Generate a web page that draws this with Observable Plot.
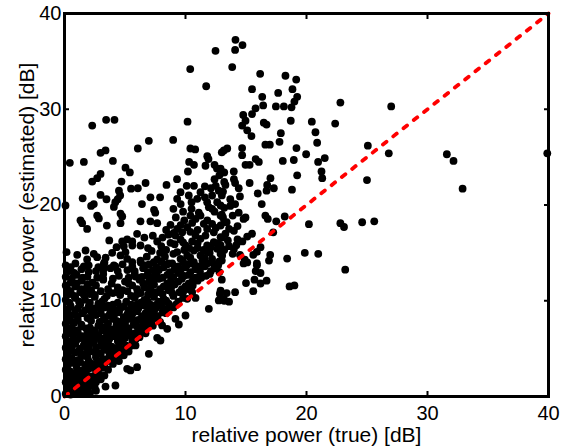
<!DOCTYPE html>
<html><head><meta charset="utf-8">
<script src="https://cdn.jsdelivr.net/npm/d3@7"></script>
<script src="https://cdn.jsdelivr.net/npm/@observablehq/plot@0.6"></script>
<style>body{margin:0;background:#fff} svg{display:block}</style>
</head><body><div id="chart"></div>
<script>
const xTicks = [0, 10, 20, 30, 40];
const yTicks = [0, 10, 20, 30, 40];
const innerTicks = [10, 20, 30];
const refLine = [0, 40];
const xLabel = "relative power (true) [dB]";
const yLabel = "relative power (estimated) [dB]";

// upper scattered points [true, estimated]
const sparseTop = [[12.48,36.1],[10.39,34.2],[11.71,32.4],[2.29,28.3],[3.44,28.9],[4.13,28.9],[10.17,28.7],[8.98,26.8],[6.97,26.7],
[14.13,37.25],[14.71,36.7],[14.1,36.2],[13.86,34.4],[16.17,33.7],[18.26,33.5],[19.15,33.1],[15.5,32.1],[17.66,31.7],[18.84,32.1],[19.23,31.3],[16.34,31.3],[19.0,30.8],[22.8,30.7],[15.79,30.1],[16.42,30.4],[17.47,30.3],[18.13,30.3],[18.76,30.2],[14.77,29.4],[15.5,29.5],[14.96,28.8],[14.68,28.3],[15.1,27.8],[16.47,28.6],[16.7,28.4],[18.7,28.8],[20.44,28.7],[20.74,27.6],[22.37,28.5],[17.88,27.5],[15.45,27.2],[27.0,30.3]];

const outliers = [[26.8,25.4],[31.6,25.3],[32.15,24.6],[32.9,21.7],[39.9,25.4]];

const midRight = [[13.17,25.7],[13.45,25.9],[14.68,25.95],[16.6,26.3],[16.97,26.3],[19.17,25.95],[19.97,25.3],[18.04,24.6],[18.95,24.7],[20.96,24.5],[21.51,24.9],[25.07,26.2],[20.88,26.5],[17.77,26.6],[14.68,25.2],[14.96,24.2],[15.3,24.2],[15.8,24.8],[16.06,24.5],[12.9,23.8],[13.06,23.4],[13.99,23.5],[19.23,23.1],[21.24,23.5],[21.3,22.8],[25.0,22.6],[17.02,22.8],[16.75,22.1],[17.3,21.75],[16.7,21.5],[15.3,22.3],[14.0,22.7],[14.1,22.3],[13.3,22.1],[14.4,21.75],[14.5,20.9],[13.1,21.4],[13.0,21.0],[18.8,21.6],[15.97,21.2],[16.3,20.1],[13.2,19.7],[13.7,19.9],[14.1,20.1],[13.1,18.7],[13.9,18.9],[14.96,18.7],[14.8,18.55],[16.6,18.9],[16.8,18.55],[18.2,18.8],[17.5,18.3],[20.2,18.0],[22.8,18.1],[23.1,17.7],[24.6,18.2],[25.6,18.3],[13.6,17.5],[14.0,17.3],[13.3,17.0],[13.0,16.6],[15.5,17.0],[15.1,16.7],[14.7,16.2],[14.3,16.4],[17.25,17.15],[16.2,15.6],[15.9,15.1],[15.6,14.8],[14.0,15.4],[13.9,14.9],[14.5,14.8],[14.9,14.3],[15.1,14.0],[17.0,14.8],[16.9,14.2],[18.4,14.4],[19.86,15.0],[20.97,14.9],[15.9,13.9],[12.9,14.9],[12.9,15.8],
[13.6,15.7],[14.2,15.8],[13.5,16.3],[14.3,17.8],[13.4,18.2],[14.4,19.2],[13.7,20.6]];

const midLeft = [[6.06,25.9],[3.39,25.7],[2.98,25.45],[10.4,25.9],[10.8,25.8],[11.8,25.1],[11.9,24.8],[13.0,25.5],[0.44,24.4],[1.6,24.5],[4.0,24.6],[10.3,24.5],[10.7,24.2],[11.65,24.1],[12.4,24.2],[5.04,23.9],[5.4,23.4],[10.2,23.5],[12.6,23.8],[12.8,23.1],[12.4,22.7],[13.2,23.4],[2.98,23.25],[2.7,22.8],[2.29,22.45],[4.71,22.45],[6.7,22.3],[8.43,22.1],[9.3,22.7],[10.1,22.0],[10.7,22.0],[11.6,21.95],[12.1,21.75],[12.5,22.0],[12.75,21.5],[13.2,22.4],[4.5,21.5],[4.6,21.0],[5.5,21.7],[6.06,21.75],[2.98,21.05],[3.47,20.6],[1.5,20.7],[0.08,19.95],[2.42,20.1],[2.2,19.9],[4.2,20.3],[4.08,19.8],[4.4,20.6],[6.4,20.1],[7.1,20.8],[7.9,20.8],[7.4,19.5],[7.5,19.2],[9.0,19.6],
[9.31,20.65],[9.59,21.34],[10.27,20.99],[10.97,20.65],[11.24,21.34],[11.79,20.29],[11.93,19.77],[12.2,20.99],[12.62,20.29],[12.9,19.95],
[2.7,18.9],[2.84,18.6],[1.32,18.4],[1.46,18.1],[4.63,19.1],[4.77,18.8],[6.28,18.3],[4.63,18.1],[7.1,18.3],[7.66,18.1],[3.5,17.85],[1.87,17.5],
[8.76,17.92],[9.31,17.5],[9.03,17.09],[9.73,17.15],[10.14,17.68],[10.55,18.13],[10.41,18.9],[10.83,18.55],[11.24,18.9],[11.51,18.03],[11.79,17.5],[12.2,18.03],[12.34,17.15],[12.9,17.86],[12.9,18.9],
[4.77,16.19],[5.18,16.4],[5.6,16.19],[6.0,16.99],[6.28,15.77],[5.6,15.77],[7.66,16.19],[8.76,16.05],
[9.17,16.81],[9.59,16.4],[10.0,15.77],[10.55,16.19],[10.83,16.81],[11.24,16.47],[11.65,16.81],[11.79,15.77],[12.34,16.12],[12.9,16.64],
[0.17,15.07],[1.05,14.8],[1.74,15.25],[2.42,14.9],[2.7,14.55],[1.87,14.31],
[3.94,15.0],[4.63,14.73],[5.04,15.07],[5.18,14.38],[5.6,14.03],[6.28,14.2],[3.25,13.86],[4.08,13.68],
[9.31,15.07],[9.59,14.38],[10.14,14.73],[10.69,15.25],[11.24,14.73],[11.79,15.07],[12.2,14.38],[12.62,15.42],[13.03,14.73],[10.69,14.03],[11.51,13.86],[12.34,13.86],
[7.38,14.03],[7.66,14.31],[8.6,13.9]];

const bandFill = [[8.3,14.6],[9.0,14.9],[9.9,15.3],[10.4,14.5],[11.0,15.5],[11.6,14.4],[12.0,15.0],[12.8,14.1],[13.2,15.3],
[8.4,15.3],[9.1,15.9],[9.8,16.1],[10.3,15.5],[11.0,16.0],[11.5,15.3],[12.1,15.6],[12.7,16.0],[8.1,16.6],[8.6,16.9],
[9.6,17.9],[10.4,17.2],[11.0,17.4],[11.8,18.4],[12.5,17.6],[13.2,18.2],[8.4,17.4],[9.9,18.4],
[9.2,18.7],[9.8,19.3],[10.5,19.6],[11.1,19.2],[12.4,19.3],[13.0,19.0],[9.6,20.1],[10.5,20.3],[11.6,20.8],[12.2,19.6],
[6.8,14.6],[7.2,15.2],[7.9,15.0],[6.6,16.6],[7.3,16.8],[8.0,15.7],[6.9,15.5],
[3.4,14.5],[4.3,15.6],[4.9,15.7],[3.7,16.3]];

const lowRight = [[14.8,13.9],[15.9,13.7],[15.8,13.1],[16.2,12.9],[15.7,12.2],[16.2,11.8],[16.7,12.1],[15.0,11.85],[15.6,11.0],[18.6,11.5],[19.0,11.6],[23.2,13.25],[13.0,12.2],[12.9,11.05],[13.4,10.8],[14.1,10.9],[13.2,10.0],[13.6,9.9]];

const nearDiag = [[3.25,13.58],[5.87,12.53],[3.2,12.29],[4.35,10.9],[10.27,11.77],[10.55,10.9],[10.14,10.2],[10.83,10.3],[11.93,9.16],[12.75,10.03],[12.84,10.73],[13.17,10.2],[10.0,8.46],[9.17,8.11],[9.45,7.52],[7.66,6.13],[7.93,5.85],[6.97,4.46],[6.0,3.06],[5.18,2.89],[5.45,2.72],[4.21,1.15],[3.39,1.04],[5.87,5.33],[8.07,7.42],[8.49,7.07]];

const core = [
[0.1,0.3],[0.5,0.2],[0.9,0.4],[1.3,0.3],[1.7,0.5],[2.1,0.3],[2.6,0.6],
[0.3,0.9],[0.7,1.0],[1.1,0.8],[1.6,1.0],[2.0,1.1],[2.5,0.9],
[0.1,1.5],[0.5,1.6],[1.0,1.4],[1.5,1.6],[2.0,1.7],[2.6,1.5],[3.0,1.8],
[0.2,2.1],[0.6,2.2],[1.2,2.0],[1.8,2.3],[2.3,2.1],[2.8,2.4],[3.3,2.2],
[0.1,2.8],[0.5,2.6],[1.4,2.7],[2.0,2.9],[2.6,2.7],[3.1,3.0],[3.6,2.8],
[0.3,3.3],[0.8,3.5],[1.7,3.3],[2.3,3.4],[2.9,3.2],[3.4,3.6],[4.0,3.4],[4.5,3.7],
[0.1,3.9],[0.6,4.0],[1.1,3.8],[2.6,4.1],[3.2,3.9],[3.7,4.2],[4.3,4.0],[4.9,4.3],
[0.3,4.5],[0.9,4.6],[1.6,4.4],[2.1,4.7],[3.0,4.5],[3.6,4.8],[4.1,4.6],[4.7,4.9],[5.3,4.7],
[0.1,5.1],[0.6,5.2],[1.3,5.0],[2.0,5.3],[2.6,5.1],[3.3,5.4],[3.9,5.2],[4.5,5.5],[5.1,5.3],[5.7,5.6],
[0.4,5.7],[1.0,5.9],[1.7,5.7],[2.3,6.0],[3.0,5.8],[3.7,6.0],[4.4,5.8],[5.0,6.1],[5.6,5.9],[6.2,6.2],
[0.1,6.3],[0.7,6.5],[1.5,6.3],[2.2,6.6],[2.8,6.4],[3.5,6.6],[4.2,6.4],[4.8,6.7],[5.5,6.5],[6.1,6.8],[6.7,6.6],
[0.3,7.0],[1.0,6.9],[1.8,7.1],[2.5,6.9],[3.2,7.2],[4.0,7.0],[4.6,7.3],[5.3,7.1],[6.0,7.3],[6.7,7.1],[7.3,7.4],
[0.1,7.6],[0.8,7.7],[1.4,7.5],[2.9,7.8],[3.6,7.6],[4.3,7.9],[5.0,7.7],[5.8,7.9],[6.5,7.7],[7.2,8.0],[7.9,7.8],
[0.4,8.2],[1.1,8.4],[1.9,8.2],[2.6,8.5],[3.4,8.3],[4.1,8.5],[4.9,8.3],[5.6,8.6],[6.4,8.4],[7.0,8.6],[7.7,8.4],[8.4,8.7],
[0.2,8.8],[0.9,9.0],[2.2,8.9],[3.0,9.1],[3.8,8.9],[4.6,9.2],[5.3,9.0],[6.1,9.2],[6.9,9.0],[7.6,9.3],[8.3,9.1],[9.0,9.3],
[0.5,9.5],[1.3,9.6],[2.0,9.4],[2.8,9.7],[3.6,9.5],[4.4,9.8],[5.5,9.6],[6.3,9.8],[7.1,9.6],[7.8,9.9],[8.6,9.7],[9.4,9.9],
[0.1,10.1],[0.9,10.3],[1.7,10.1],[2.5,10.4],[3.3,10.2],[5.8,10.3],[6.6,10.1],[7.4,10.4],[8.2,10.2],[9.0,10.5],[9.8,10.3],
[0.4,10.7],[1.3,10.9],[2.1,10.7],[3.0,11.0],[4.0,10.8],[5.2,11.0],[6.3,10.8],[7.0,11.1],[7.7,10.9],[8.6,11.1],[9.5,10.9],[10.3,11.2],
[0.2,11.3],[0.9,11.5],[1.8,11.3],[2.6,11.6],[4.4,11.4],[5.6,11.6],[6.6,11.4],[7.4,11.7],[8.2,11.5],[9.1,11.7],[10.0,11.5],
[0.5,11.9],[1.4,12.1],[2.3,11.9],[3.2,12.2],[5.0,12.0],[6.2,12.2],[7.0,12.0],[7.8,12.3],[8.8,12.1],[9.7,12.3],[10.6,12.1],[11.3,12.4],
[0.1,12.5],[1.0,12.7],[1.9,12.5],[3.2,12.8],[4.5,12.6],[5.8,12.8],[6.8,12.6],[7.6,12.9],[8.5,12.7],[9.4,12.9],[10.3,12.7],[11.2,13.0],[12.0,12.8],
[0.4,13.1],[1.4,13.3],[2.6,13.1],[3.8,13.4],[5.2,13.2],[6.5,13.4],[7.3,13.2],[8.2,13.5],[9.1,13.3],[10.0,13.5],[10.8,13.3],[11.6,13.6],[12.4,13.4],
[0.1,13.7],[0.9,13.9],[2.0,13.7],[3.3,14.0],[4.8,13.8],[6.3,14.0],[7.0,13.8],[8.0,14.1],[8.9,13.9],[9.8,14.1],[10.6,13.9],[11.4,14.2],[12.2,14.0],[13.0,14.2]];

const coreFill = [
[0.3,0.6],[1.1,0.6],[1.9,0.7],
[0.3,1.2],[1.3,1.2],[2.3,1.3],
[0.3,1.8],[0.8,1.9],[1.7,1.8],[2.4,1.9],
[0.4,2.4],[1.0,2.5],[1.5,2.4],[2.6,2.2],
[0.2,3.0],[1.0,3.1],[1.9,3.0],[2.5,3.0],[3.3,3.1],
[0.4,3.6],[1.3,3.6],[2.0,3.7],[2.8,3.7],[3.9,3.8],
[0.2,4.2],[1.4,4.2],[1.9,4.1],[2.6,4.4],[4.5,4.2],
[0.5,4.8],[1.2,4.8],[1.9,5.0],[2.6,4.7],[3.3,4.9],[4.3,5.0],[5.0,5.0],
[0.2,5.4],[0.9,5.5],[1.6,5.4],[2.4,5.6],[3.0,5.3],[3.6,5.6],[4.8,5.7],[5.5,5.3],
[0.7,6.0],[1.3,6.1],[2.0,6.0],[2.6,6.2],[3.3,6.1],[4.0,6.3],[4.7,6.2],[5.3,6.4],[5.9,6.0],
[0.4,6.6],[1.1,6.7],[1.9,6.6],[2.5,6.7],[3.1,6.9],[3.8,6.7],[4.5,6.9],[5.2,6.8],[5.8,6.6],[6.4,6.9],
[0.6,7.2],[1.4,7.3],[2.1,7.2],[2.8,7.4],[3.5,7.3],[4.3,7.5],[5.0,7.4],[5.7,7.5],[6.4,7.3],[7.0,7.6],
[0.4,7.9],[1.1,8.0],[2.2,7.9],[3.2,8.0],[4.0,8.1],[4.6,7.8],[5.4,8.1],[6.1,8.0],[6.8,8.2],[7.5,8.2],
[0.7,8.5],[1.5,8.7],[2.3,8.5],[3.0,8.7],[3.7,8.5],[4.5,8.8],[5.2,8.6],[6.0,8.9],[6.7,8.7],[7.4,8.9],[8.1,8.8],
[0.3,9.1],[1.1,9.2],[1.7,9.0],[2.5,9.2],[3.3,9.3],[4.1,9.1],[4.9,9.4],[5.8,9.3],[6.6,9.5],[7.3,9.2],[8.0,9.5],[8.7,9.3],
[0.4,9.8],[1.2,9.9],[2.1,9.8],[3.1,9.9],[4.0,9.6],[5.1,9.9],[6.0,9.6],[6.9,9.9],[7.6,9.6],[8.4,10.0],[9.2,9.6],
[0.8,10.5],[1.6,10.6],[2.5,10.6],[3.5,10.5],[4.6,10.6],[5.5,10.5],[6.0,10.7],[6.9,10.6],[7.4,10.9],[8.1,10.7],[8.9,10.8],[9.8,10.9],
[0.5,11.0],[1.4,11.2],[2.2,11.1],[3.6,11.2],[4.8,11.1],[6.0,11.2],[7.1,11.4],[7.9,11.2],[8.8,11.3],[9.7,11.2],[10.6,11.6],
[0.1,11.6],[1.0,11.8],[1.9,11.7],[3.9,11.8],[5.3,11.8],[6.5,11.8],[7.3,12.0],[8.5,11.8],[9.4,12.0],[10.3,11.8],[11.0,12.1],
[0.6,12.3],[1.5,12.4],[2.7,12.4],[4.0,12.3],[5.3,12.4],[6.4,12.5],[7.3,12.5],[8.1,12.4],[9.0,12.5],[9.9,12.6],[10.8,12.4],[11.7,12.6],
[0.8,12.9],[2.0,13.0],[3.2,13.2],[4.4,13.1],[5.8,13.1],[6.9,13.0],[7.8,13.2],[8.7,13.0],[9.6,13.2],[10.4,13.0],[11.2,13.4],[12.1,13.1],[12.8,13.0],
[0.5,13.5],[1.6,13.6],[2.8,13.5],[4.2,13.6],[5.6,13.6],[6.7,13.7],[7.6,13.5],[8.5,13.8],[9.4,13.6],[10.2,13.8],[11.0,13.6],[11.8,13.9],[12.7,13.7]];

const points = [...core, ...coreFill, ...nearDiag, ...lowRight, ...midLeft, ...bandFill, ...midRight, ...sparseTop, ...outliers];

const font = "'Liberation Sans', Arial, Helvetica, sans-serif";
const chart = Plot.plot({
  width: 563, height: 448,
  marginLeft: 64, marginRight: 15, marginTop: 13, marginBottom: 52,
  style: {fontFamily: font, color: "black", background: "white", overflow: "visible"},
  x: {domain: [0, 40]},
  y: {domain: [0, 40]},
  marks: [
    Plot.dot(points, {x: d => d[0], y: d => d[1], r: 3.9, fill: "black"}),
    Plot.line(refLine, {x: d => d, y: d => d, stroke: "red", strokeWidth: 3.8, strokeDasharray: "4.5,8.6"}),
    Plot.frame({strokeWidth: 3}),
    Plot.axisX(xTicks, {anchor: "bottom", tickSize: -5, tickPadding: 14, fontSize: 20, strokeWidth: 2, label: null}),
    Plot.axisX(innerTicks, {anchor: "top", tickSize: -5, tickFormat: () => "", strokeWidth: 2, label: null}),
    Plot.axisY(yTicks, {anchor: "left", tickSize: -5, tickPadding: 8, fontSize: 20, strokeWidth: 2, label: null}),
    Plot.axisY(innerTicks, {anchor: "right", tickSize: -5, tickFormat: () => "", strokeWidth: 2, label: null}),
    Plot.text([xLabel], {text: d => d, frameAnchor: "bottom", dy: 45, lineAnchor: "bottom", textAnchor: "middle", fontSize: 21}),
    Plot.text([yLabel], {text: d => d, frameAnchor: "left", dx: -31, rotate: -90, lineAnchor: "bottom", textAnchor: "middle", fontSize: 21})
  ]
});
document.getElementById("chart").append(chart);
</script>
</body></html>
